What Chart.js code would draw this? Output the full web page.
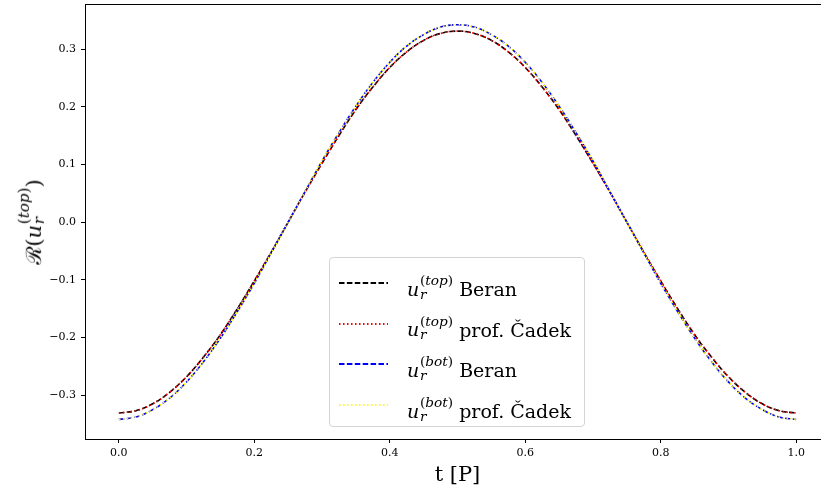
<!DOCTYPE html>
<html>
<head>
<meta charset="utf-8">
<script src="https://cdn.jsdelivr.net/npm/chart.js@4.4.0/dist/chart.umd.min.js"></script>
<style>
  html, body { margin: 0; padding: 0; background: #fff; overflow: hidden; }
  #wrap { position: relative; width: 840px; height: 492px; font-family: "DejaVu Serif", serif; color: #000; }
  #chart { position: absolute; left: 0; top: 0; }
  .legend { position: absolute; left: 329px; top: 257px; width: 256px; height: 170px; box-sizing: border-box;
    border: 1px solid #d4d4d4; border-radius: 4px; background: rgba(255,255,255,0.8); }
  .row { position: absolute; left: 0; height: 40px; width: 100%; }
  .row svg { position: absolute; left: 8px; top: 0; }
  .row .lbl { position: absolute; left: 77px; top: 10px; font-size: 19px; white-space: nowrap; line-height: 1; }
  .m i { font-style: italic; }
  .ss { display: inline-block; vertical-align: -0.22em; line-height: 1; font-size: 0.72em; margin-left: 0.05em; }
  .ss .sp, .ss .sb { display: block; }
  .ss .sb { font-style: italic; }
  .ytitle { position: absolute; left: 32px; top: 222px; transform: translate(-50%, -50%) rotate(-90deg);
    font-size: 21px; white-space: nowrap; line-height: 1; }
</style>
</head>
<body>
<div id="wrap">
  <canvas id="chart" width="840" height="492"></canvas>
  <div class="ytitle">ℛ(<span class="m"><i>u</i><span class="ss"><span class="sp">(<i>top</i>)</span><span class="sb">r</span></span></span>)</div>
  <div class="legend" id="legend"></div>
</div>
<script>
// t in periods
const tValues = [0, 0.025, 0.05, 0.075, 0.1, 0.125, 0.15, 0.175, 0.2, 0.225, 0.25,
  0.275, 0.3, 0.325, 0.35, 0.375, 0.4, 0.425, 0.45, 0.475, 0.5,
  0.525, 0.55, 0.575, 0.6, 0.625, 0.65, 0.675, 0.7, 0.725, 0.75,
  0.775, 0.8, 0.825, 0.85, 0.875, 0.9, 0.925, 0.95, 0.975, 1.0];
const topBeran = [-0.331, -0.327, -0.315, -0.295, -0.268, -0.234, -0.195, -0.150, -0.102, -0.052, 0.000,
  0.052, 0.102, 0.150, 0.195, 0.234, 0.268, 0.295, 0.315, 0.327, 0.331,
  0.327, 0.315, 0.295, 0.268, 0.234, 0.195, 0.150, 0.102, 0.052, 0.000,
  -0.052, -0.102, -0.150, -0.195, -0.234, -0.268, -0.295, -0.315, -0.327, -0.331];
const topCadek = [-0.331, -0.327, -0.315, -0.295, -0.268, -0.234, -0.195, -0.150, -0.102, -0.052, 0.000,
  0.052, 0.102, 0.150, 0.195, 0.234, 0.268, 0.295, 0.315, 0.327, 0.331,
  0.327, 0.315, 0.295, 0.268, 0.234, 0.195, 0.150, 0.102, 0.052, 0.000,
  -0.052, -0.102, -0.150, -0.195, -0.234, -0.268, -0.295, -0.315, -0.327, -0.331];
const botBeran = [-0.342, -0.338, -0.325, -0.305, -0.277, -0.242, -0.201, -0.155, -0.106, -0.053, 0.000,
  0.053, 0.106, 0.155, 0.201, 0.242, 0.277, 0.305, 0.325, 0.338, 0.342,
  0.338, 0.325, 0.305, 0.277, 0.242, 0.201, 0.155, 0.106, 0.053, 0.000,
  -0.053, -0.106, -0.155, -0.201, -0.242, -0.277, -0.305, -0.325, -0.338, -0.342];
const botCadek = [-0.342, -0.338, -0.325, -0.305, -0.277, -0.242, -0.201, -0.155, -0.106, -0.053, 0.000,
  0.053, 0.106, 0.155, 0.201, 0.242, 0.277, 0.305, 0.325, 0.338, 0.342,
  0.338, 0.325, 0.305, 0.277, 0.242, 0.201, 0.155, 0.106, 0.053, 0.000,
  -0.053, -0.106, -0.155, -0.201, -0.242, -0.277, -0.305, -0.325, -0.338, -0.342];
const xTicks = [0, 0.2, 0.4, 0.6, 0.8, 1.0];
const yTicks = [-0.3, -0.2, -0.1, 0, 0.1, 0.2, 0.3];

// later series on top, like matplotlib
const series = [
  { sup: 'top', name: 'Beran', data: topBeran, color: '#000000', dash: [5.5, 2.4], order: 3 },
  { sup: 'top', name: 'prof. Čadek', data: topCadek, color: '#ff0000', dash: [1.5, 2.5], order: 2 },
  { sup: 'bot', name: 'Beran', data: botBeran, color: '#0000ff', dash: [5.5, 2.4], order: 1 },
  { sup: 'bot', name: 'prof. Čadek', data: botCadek, color: '#ffff00', dash: [1.5, 2.5], order: 0 },
];

const fmt = v => (v < 0 ? '\u2212' : '') + Math.abs(v).toFixed(1);

// top/right spine
const frame = {
  id: 'frame',
  afterDraw(c) {
    const { ctx, chartArea: a } = c;
    ctx.save();
    ctx.strokeStyle = '#000';
    ctx.lineWidth = 1;
    ctx.strokeRect(a.left + 0.5, a.top + 0.5, a.right - a.left, a.bottom - a.top);
    ctx.restore();
  }
};

new Chart(document.getElementById('chart'), {
  type: 'line',
  data: {
    datasets: series.map(s => ({
      data: tValues.map((t, i) => ({ x: t, y: s.data[i] })),
      borderColor: s.color,
      borderDash: s.dash,
      borderWidth: 1.6,
      pointRadius: 0,
      fill: false,
      tension: 0.4,
      order: s.order,
    })),
  },
  options: {
    responsive: false,
    animation: false,
    layout: { padding: { top: 4, right: 10, left: 0, bottom: 0 } },
    plugins: { legend: { display: false }, tooltip: { enabled: false } },
    scales: {
      x: {
        type: 'linear', min: -0.05, max: 1.05,
        afterBuildTicks: s => { s.ticks = xTicks.map(v => ({ value: v })); },
        afterFit: s => { s.height = 53; s.paddingLeft = 0; s.paddingRight = 0; },
        grid: { drawOnChartArea: false, drawTicks: true, tickLength: 4, color: '#000' },
        border: { color: '#000', width: 1 },
        ticks: { callback: v => fmt(v), color: '#000', font: { family: 'DejaVu Serif', size: 11 }, padding: 4, maxRotation: 0 },
        title: { display: true, text: 't [P]', color: '#000', font: { family: 'DejaVu Serif', size: 21 }, padding: { top: 4 } },
      },
      y: {
        type: 'linear', min: -0.376, max: 0.378,
        afterBuildTicks: s => { s.ticks = yTicks.map(v => ({ value: v })); },
        afterFit: s => { s.width = 85; s.paddingTop = 0; s.paddingBottom = 0; },
        grid: { drawOnChartArea: false, drawTicks: true, tickLength: 4, color: '#000' },
        border: { color: '#000', width: 1 },
        ticks: { callback: v => fmt(v), color: '#000', font: { family: 'DejaVu Serif', size: 11 }, padding: 5 },
      },
    },
  },
  plugins: [frame],
});

// legend
const leg = document.getElementById('legend');
series.forEach((s, i) => {
  const row = document.createElement('div');
  row.className = 'row';
  row.style.top = (6 + i * 40.7) + 'px';
  row.innerHTML =
    `<svg width="52" height="40"><line x1="1" y1="19" x2="50" y2="19" stroke="${s.color}" stroke-width="1.8" stroke-dasharray="${s.dash.join(' ')}"/></svg>` +
    `<span class="lbl"><span class="m"><i>u</i><span class="ss"><span class="sp">(<i>${s.sup}</i>)</span><span class="sb">r</span></span></span> ${s.name}</span>`;
  leg.appendChild(row);
});
</script>
</body>
</html>
